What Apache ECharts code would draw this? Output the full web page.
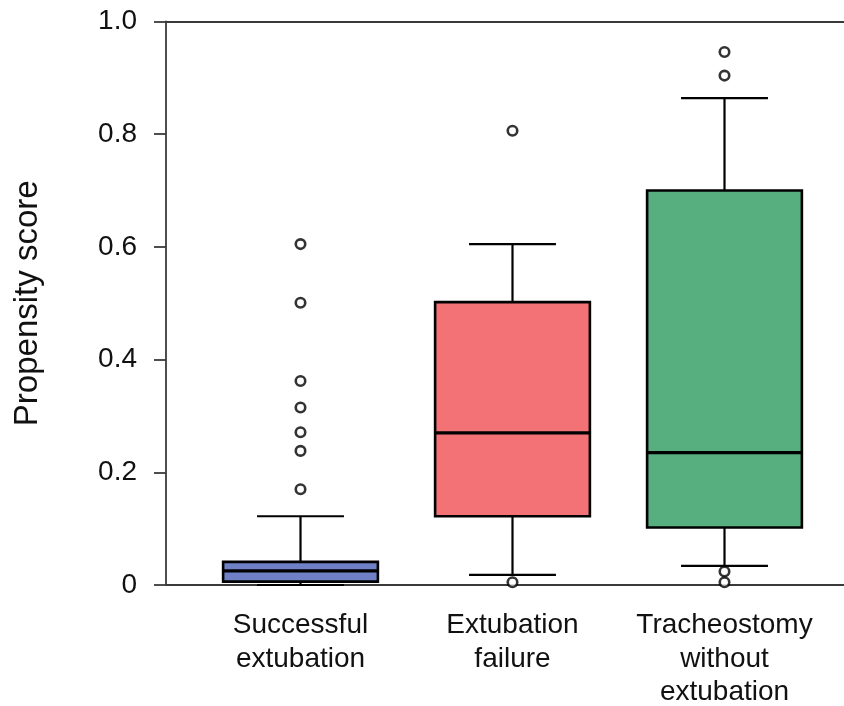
<!DOCTYPE html>
<html>
<head>
<meta charset="utf-8">
<script src="https://cdn.jsdelivr.net/npm/echarts@6/dist/echarts.min.js"></script>
<style>html,body{margin:0;padding:0;background:#fff;}#c{width:844px;height:706px;}</style>
</head>
<body>
<div id="c"></div>
<script>
// ---- data ----
const categories = ['Successful\nextubation', 'Extubation\nfailure', 'Tracheostomy\nwithout\nextubation'];
// [min(whisker), Q1, median, Q3, max(whisker)]
const boxSuccessful = [0.0, 0.006, 0.025, 0.041, 0.122];
const boxFailure = [0.018, 0.122, 0.270, 0.502, 0.605];
const boxTracheostomy = [0.034, 0.102, 0.235, 0.700, 0.864];
const outliersSuccessful = [0.605, 0.501, 0.362, 0.315, 0.271, 0.238, 0.170];
const outliersFailure = [0.806, 0.005];
const outliersTracheostomy = [0.946, 0.904, 0.024, 0.005];
const boxColors = ['#6f80c6', '#f27275', '#57ae7e'];
const yTicks = [0, 0.2, 0.4, 0.6, 0.8, 1.0];

const boxes = [boxSuccessful, boxFailure, boxTracheostomy];
const outliers = [outliersSuccessful, outliersFailure, outliersTracheostomy];
const boxData = boxes.map((b, i) => [i].concat(b));
const outlierData = [];
outliers.forEach((arr, i) => arr.forEach(v => outlierData.push([i, v])));

const FONT = 'Liberation Sans, Arial, sans-serif';
const AX = '#3a3a3a';

function renderBox(params, api) {
  const x = api.value(0);
  const band = api.size([1, 0])[0];
  const bw = band * 0.73;
  const cw = band * 0.41;
  const pMin = api.coord([x, api.value(1)]);
  const pQ1 = api.coord([x, api.value(2)]);
  const pMed = api.coord([x, api.value(3)]);
  const pQ3 = api.coord([x, api.value(4)]);
  const pMax = api.coord([x, api.value(5)]);
  const cx = pMed[0];
  const ln = { stroke: '#000', lineWidth: 2.2 };
  return {
    type: 'group',
    children: [
      { type: 'line', shape: { x1: cx, y1: pMin[1], x2: cx, y2: pQ1[1] }, style: ln },
      { type: 'line', shape: { x1: cx, y1: pQ3[1], x2: cx, y2: pMax[1] }, style: ln },
      { type: 'line', shape: { x1: cx - cw / 2, y1: pMin[1], x2: cx + cw / 2, y2: pMin[1] }, style: ln },
      { type: 'line', shape: { x1: cx - cw / 2, y1: pMax[1], x2: cx + cw / 2, y2: pMax[1] }, style: ln },
      { type: 'rect', shape: { x: cx - bw / 2, y: pQ3[1], width: bw, height: pQ1[1] - pQ3[1] },
        style: { fill: boxColors[params.dataIndex], stroke: '#000', lineWidth: 2.6 } },
      { type: 'line', shape: { x1: cx - bw / 2, y1: pMed[1], x2: cx + bw / 2, y2: pMed[1] },
        style: { stroke: '#000', lineWidth: 3.4 } }
    ]
  };
}

const chart = echarts.init(document.getElementById('c'), null, { renderer: 'canvas' });
chart.setOption({
  animation: false,
  backgroundColor: '#fff',
  grid: [
    { left: 194.5, right: 13.5, top: 21.5, bottom: 121, containLabel: false, outerBoundsMode: 'none' },
    { left: 166, right: 0, top: 21.5, bottom: 121, containLabel: false, outerBoundsMode: 'none' }
  ],
  xAxis: [
    { gridIndex: 0, type: 'category', data: categories,
      axisLine: { show: false }, axisTick: { show: false }, splitLine: { show: false },
      axisLabel: { fontFamily: FONT, fontSize: 28, color: '#111', lineHeight: 33.5, margin: 24, interval: 0 } },
    { gridIndex: 1, type: 'value', min: 0, max: 1, position: 'bottom',
      axisLine: { show: true, lineStyle: { color: AX, width: 1.8 } },
      axisTick: { show: false }, axisLabel: { show: false }, splitLine: { show: false } },
    { gridIndex: 1, type: 'value', min: 0, max: 1, position: 'top',
      axisLine: { show: true, lineStyle: { color: AX, width: 1.8 } },
      axisTick: { show: false }, axisLabel: { show: false }, splitLine: { show: false } }
  ],
  yAxis: [
    { gridIndex: 0, type: 'value', min: 0, max: 1, show: false },
    { gridIndex: 1, type: 'value', min: 0, max: 1, interval: 0.2,
      name: 'Propensity score', nameLocation: 'middle', nameGap: 122, nameRotate: 90,
      nameTextStyle: { fontFamily: FONT, fontSize: 33, color: '#111' },
      axisLine: { show: true, lineStyle: { color: AX, width: 1.8 } },
      axisTick: { show: true, length: 12, lineStyle: { color: AX, width: 1.8 } },
      axisLabel: { fontFamily: FONT, fontSize: 28, color: '#111', margin: 29,
        formatter: v => (yTicks.indexOf(v) >= 0 && v === 0) ? '0' : v.toFixed(1) },
      splitLine: { show: false } }
  ],
  series: [
    { type: 'custom', xAxisIndex: 0, yAxisIndex: 0, renderItem: renderBox,
      encode: { x: 0, y: [1, 2, 3, 4, 5] }, data: boxData, z: 2 },
    { type: 'scatter', xAxisIndex: 0, yAxisIndex: 0, data: outlierData,
      symbol: 'circle', symbolSize: 9.5,
      itemStyle: { color: '#fff', borderColor: '#000', borderWidth: 2.6 }, z: 3 }
  ]
});
</script>
</body>
</html>
